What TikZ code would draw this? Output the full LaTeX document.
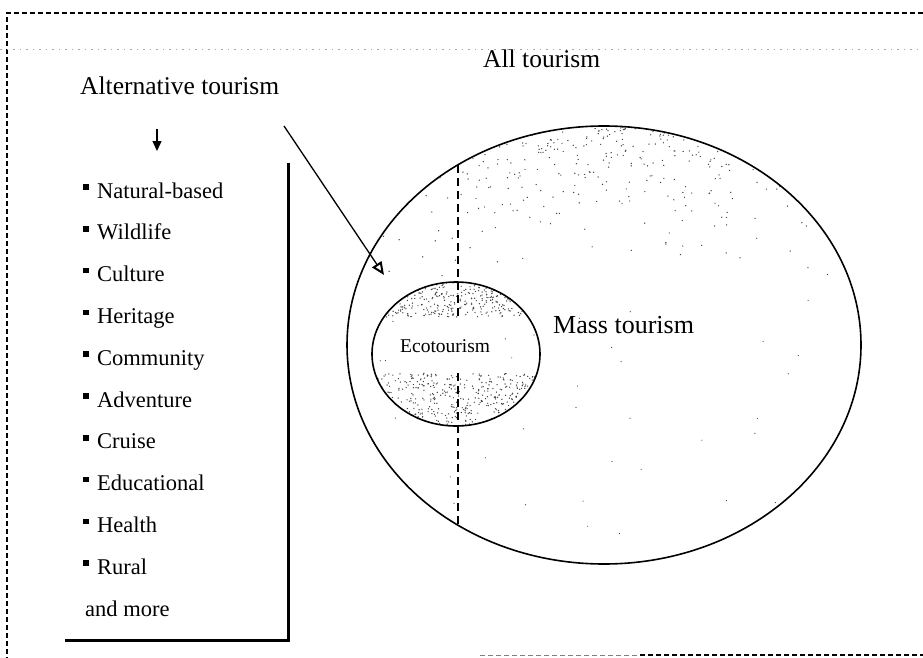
\documentclass[tikz,border=0pt]{standalone}
\usepackage{fontspec}
\setmainfont{Liberation Serif}
\usetikzlibrary{arrows.meta}
\begin{document}
\begin{tikzpicture}[x=1pt,y=-1pt,
  lbl/.style={inner sep=0pt, anchor=base west},
  itemtext/.style={lbl, font=\fontsize{22.5}{24}\selectfont},
  headtext/.style={lbl, font=\fontsize{25.5}{27}\selectfont},
  frameline/.style={line width=1.2pt, dash pattern=on 5pt off 3pt},
  dotline/.style={line width=0.6pt, gray!70, dash pattern=on 1.5pt off 5pt},
  bar/.style={line width=3pt},
  ring/.style={line width=1.6pt},
  divider/.style={line width=1.6pt, dash pattern=on 8pt off 5pt},
  bulletbox/.style={fill=black, inner sep=0pt, minimum size=5.5pt},
  stip/.style={fill=black!75},
]
\useasboundingbox (0,0) rectangle (923,658);

% frame lines
\coordinate (ftl) at (7,13);
\coordinate (ftr) at (923,13);
\coordinate (fbl) at (7,658);
\draw[frameline] (ftr) -- (ftl) -- (fbl);
\coordinate (dl) at (0,49);
\coordinate (dr) at (923,49);
\draw[dotline] (dl) -- (dr);
\coordinate (bdl) at (480,655);
\coordinate (bdm) at (640,655);
\coordinate (bdr) at (923,655);
\draw[line width=0.8pt, gray, dash pattern=on 5pt off 3pt] (bdl) -- (bdm);
\draw[frameline] (bdm) -- (bdr);

% stipple in big circle
\begin{scope}
  \clip (604,345) ellipse [x radius=257, y radius=219];
  \pgfmathsetseed{11}
  \foreach \i in {1,...,520}{
    \pgfmathsetmacro{\px}{365+470*rnd}
    \pgfmathsetmacro{\py}{126+160*rnd*rnd}
    \fill[stip] (\px,\py) circle (0.7);
  }
  \foreach \i in {1,...,40}{
    \pgfmathsetmacro{\px}{360+480*rnd}
    \pgfmathsetmacro{\py}{290+260*rnd}
    \fill[stip] (\px,\py) circle (0.6);
  }
\end{scope}

% stipple in eco ellipse
\begin{scope}
  \clip (456,354) ellipse [x radius=84, y radius=72];
  \fill[white] (456,354) ellipse [x radius=84, y radius=72];
  \pgfmathsetseed{5}
  \foreach \i in {1,...,420}{
    \pgfmathsetmacro{\px}{372+168*rnd}
    \pgfmathsetmacro{\py}{282+35*rnd}
    \fill[stip] (\px,\py) circle (0.7);
  }
  \foreach \i in {1,...,520}{
    \pgfmathsetmacro{\px}{372+168*rnd}
    \pgfmathsetmacro{\py}{373+54*rnd}
    \fill[stip] (\px,\py) circle (0.7);
  }
  \foreach \i in {1,...,25}{
    \pgfmathsetmacro{\px}{372+168*rnd}
    \pgfmathsetmacro{\py}{317+56*rnd}
    \ifdim \px pt<395pt \fill[stip] (\px,\py) circle (0.6); \fi
    \ifdim \px pt>505pt \fill[stip] (\px,\py) circle (0.6); \fi
  }
\end{scope}

% circles
\draw[ring] (604,345) ellipse [x radius=257, y radius=219];
\draw[ring] (456,354) ellipse [x radius=84, y radius=72];

% divider
\coordinate (dv1) at (458,165);
\coordinate (dv2) at (458,317);
\coordinate (dv3) at (458,373);
\coordinate (dv4) at (458,526);
\draw[divider] (dv1) -- (dv2);
\draw[divider] (dv3) -- (dv4);

% headings
\node[headtext] (all) at (483,68) {All tourism};
\node[headtext] (alt) at (80,95) {Alternative tourism};
\node[lbl, font=\fontsize{26}{28}\selectfont] (mass) at (553,333) {Mass tourism};
\node[lbl, font=\fontsize{19.5}{21}\selectfont] (eco) at (400,352) {Ecotourism};

% arrows
\coordinate (sa1) at (157,129);
\coordinate (sa2) at (157,151);
\draw[line width=1.3pt, -{Triangle[length=10pt,width=9pt]}] (sa1) -- (sa2);
\coordinate (la1) at (284,126);
\coordinate (la2) at (384,275);
\draw[line width=1.3pt, -{Triangle[open,length=13pt,width=11pt,line width=2pt]}] (la1) -- (la2);

% list box
\coordinate (bx1) at (288,163);
\coordinate (bx2) at (288,640);
\coordinate (bx3) at (65,640);
\draw[bar] (bx1) -- (bx2) -- (bx3);

% list items
\foreach \t [count=\k from 0] in {Natural-based,Wildlife,Culture,Heritage,Community,Adventure,Cruise,Educational,Health,Rural}{
  \pgfmathsetmacro{\yy}{198+41.8*\k}
  \node[bulletbox] (b\k) at (86,\yy-11) {};
  \node[itemtext] (t\k) at (97,\yy) {\t};
}
\node[itemtext] (more) at (85,616) {and more};
\end{tikzpicture}
\end{document}
